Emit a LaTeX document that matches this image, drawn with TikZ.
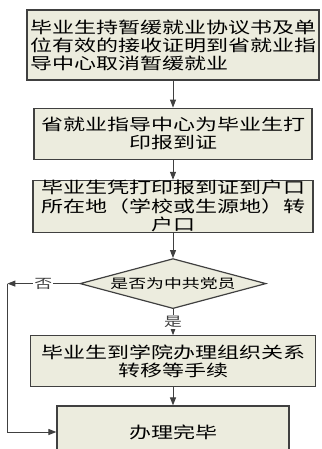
\documentclass[tikz,border=0pt]{standalone}
\usepackage{fontspec}
\setmainfont{Noto Sans CJK SC}[FakeStretch=1.375]
\usetikzlibrary{positioning, arrows.meta, shapes.geometric}
\definecolor{boxfill}{RGB}{236,236,222}
\definecolor{boxline}{RGB}{64,64,64}

\begin{document}
\begin{tikzpicture}[
    x=1pt, y=1pt,
    every node/.style={font=\fontsize{16}{18}\selectfont},
    stepbox/.style={
        rectangle,
        draw=boxline,
        fill=boxfill,
        minimum height=51pt,
        align=center,
        inner sep=2pt,
        line width=1.2pt
    },
    decision/.style={
        diamond,
        draw=boxline,
        fill=boxfill,
        aspect=3.72,
        minimum width=186pt,
        minimum height=50pt,
        inner sep=0pt,
        line width=1.2pt,
        font=\fontsize{13}{15}\selectfont
    },
    branch/.style={
        fill=white,
        inner sep=1pt,
        font=\fontsize{13}{15}\selectfont
    },
    arrow/.style={
        -{Triangle[length=8pt,width=6pt]},
        line width=1pt,
        color=boxline
    }
]
\useasboundingbox (0,0) rectangle (321,-449);
\clip (0,0) rectangle (321,-449);

% Steps
\node[stepbox, minimum width=292pt, minimum height=70pt, align=left] (cancel) at (173,-45)
    {毕业生持暂缓就业协议书及单\\位有效的接收证明到省就业指\\导中心取消暂缓就业};
\node[stepbox, minimum width=278pt, below=27pt of cancel] (print)
    {省就业指导中心为毕业生打\\印报到证};
\node[stepbox, minimum width=280pt, minimum height=52pt, inner sep=0pt,
      font=\fontsize{16}{18.5}\selectfont, below=20pt of print] (hukou)
    {毕业生凭打印报到证到户口\\所在地（学校或生源地）转\\户口};

% Decision
\node[decision, below=25pt of hukou] (party) {是否为中共党员};
\node[stepbox, minimum width=285pt, below=26pt of party] (transfer)
    {毕业生到学院办理组织关系\\转移等手续};
\node[stepbox, minimum width=232pt, minimum height=52pt, below=18pt of transfer] (finish)
    {办理完毕};
\coordinate[left=72pt of party.west] (turn);

% Flow
\draw[arrow] (cancel.south) -- (print.north);
\draw[arrow] (print.south) -- (hukou.north);
\draw[arrow] (hukou.south) -- (party.north);
\draw[arrow] (party.south) -- node[branch] {是} (transfer.north);
\draw[arrow] (transfer.south) -- (finish.north);

% No branch
\draw[arrow] (party.west) -- node[branch] {否} (turn);
\draw[arrow] (turn) |- (finish.west);

\end{tikzpicture}
\end{document}
